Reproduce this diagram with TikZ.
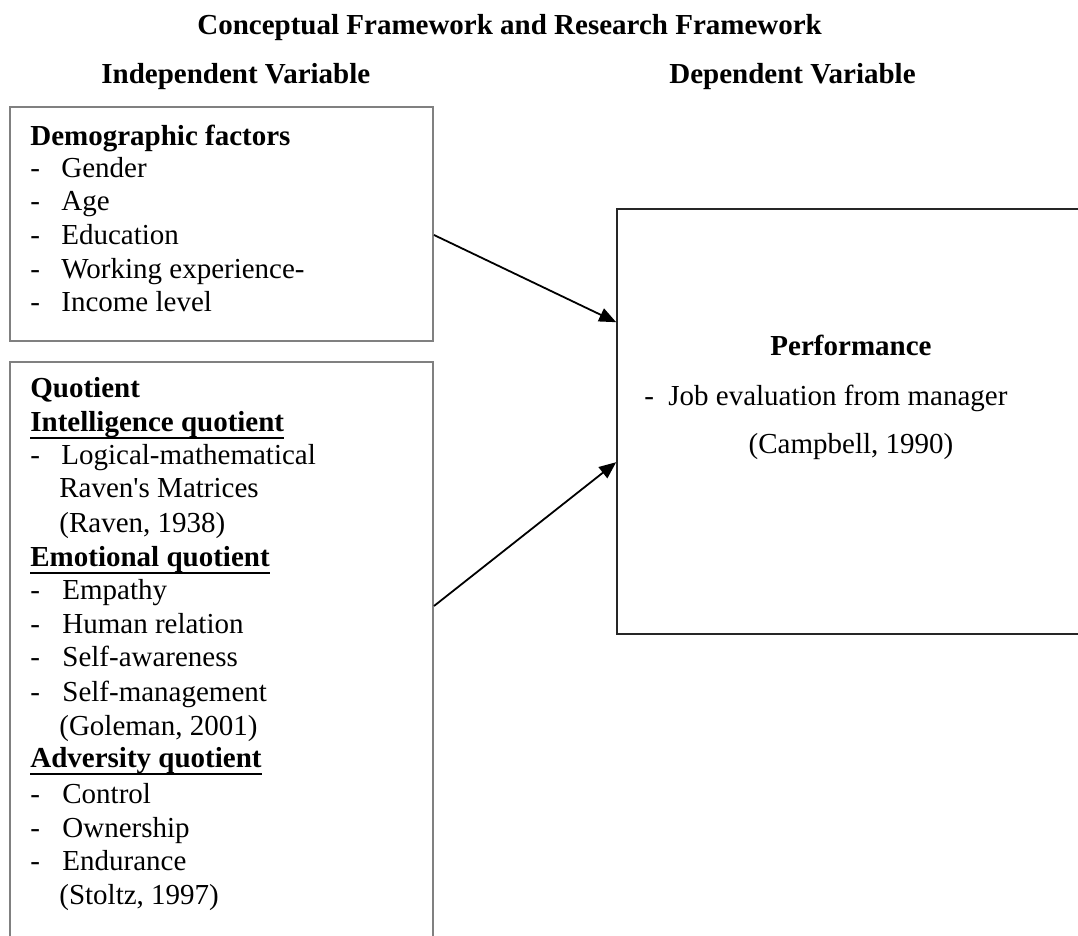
\documentclass[tikz,border=0pt]{standalone}
\usepackage{fontspec}
\setmainfont{Liberation Serif}[Ligatures=TeXOff]
\usetikzlibrary{arrows.meta,calc,fit}
\newcommand\fs{\fontsize{14.5}{17}\selectfont}
\newcommand\myul[1]{\setbox0\hbox{#1}\rlap{\rule[-3.4pt]{\wd0}{1.1pt}}\box0}
\begin{document}
\begin{tikzpicture}[x=0.5pt,y=-0.5pt,
  tx/.style={anchor=base west,inner sep=0pt,font=\fs},
  hd/.style={anchor=base west,inner sep=0pt,font=\fs\bfseries},
  ctr/.style={anchor=base,inner sep=0pt,font=\fs},
  boxL/.style={draw=black!50,line width=1pt,inner sep=0pt},
  boxR/.style={draw=black!85,line width=0.8pt,inner sep=0pt},
  arr/.style={line width=0.9pt,-{Triangle[length=8.5pt,width=7pt]}}]
\useasboundingbox (0,0) rectangle (1078,936);
\clip (0,0) rectangle (1078,936);
\fill[white] (0,0) rectangle (1078,936);

% box frames
\coordinate (dnw) at (10,107);  \coordinate (dse) at (433,341);
\coordinate (qnw) at (10,362);  \coordinate (qse) at (433,1000);
\coordinate (pnw) at (617,209); \coordinate (pse) at (1160,634);
\node[boxL,fit=(dnw)(dse)] (demo) {};
\node[boxL,fit=(qnw)(qse)] (quot) {};
\node[boxR,fit=(pnw)(pse)] (perf) {};

% headings
\node[hd] (title) at (197,35) {Conceptual Framework and Research Framework};
\node[hd] (indep) at (101,84) {Independent Variable};
\node[hd] (dep) at (669,84) {Dependent Variable};

% demographic box
\node[hd] (dh) at (30,146) {Demographic factors};
\node[tx] (d1m) at (30,178) {-}; \node[tx] (d1) at (61,178) {Gender};
\node[tx] (d2m) at (30,211) {-}; \node[tx] (d2) at (61,211) {Age};
\node[tx] (d3m) at (30,245) {-}; \node[tx] (d3) at (61,245) {Education};
\node[tx] (d4m) at (30,279) {-}; \node[tx] (d4) at (61,279) {Working experience-};
\node[tx] (d5m) at (30,312) {-}; \node[tx] (d5) at (61,312) {Income level};

% quotient box
\node[hd] (qh) at (30,398) {Quotient};
\node[hd] (iq) at (30,432) {\myul{Intelligence quotient}};
\node[tx] (iq1m) at (30,465) {-}; \node[tx] (iq1) at (61,465) {Logical-mathematical};
\node[tx] (iq2) at (59,498) {Raven's Matrices};
\node[tx] (iq3) at (59,533) {(Raven, 1938)};
\node[hd] (eq) at (30,567) {\myul{Emotional quotient}};
\node[tx] (eq1m) at (30,600) {-}; \node[tx] (eq1) at (62,600) {Empathy};
\node[tx] (eq2m) at (30,633) {-}; \node[tx] (eq2) at (62,633) {Human relation};
\node[tx] (eq3m) at (30,667) {-}; \node[tx] (eq3) at (62,667) {Self-awareness};
\node[tx] (eq4m) at (30,701) {-}; \node[tx] (eq4) at (62,701) {Self-management};
\node[tx] (eq5) at (59,735) {(Goleman, 2001)};
\node[hd] (aq) at (30,768) {\myul{Adversity quotient}};
\node[tx] (aq1m) at (30,803) {-}; \node[tx] (aq1) at (62,803) {Control};
\node[tx] (aq2m) at (30,837) {-}; \node[tx] (aq2) at (62,837) {Ownership};
\node[tx] (aq3m) at (30,870) {-}; \node[tx] (aq3) at (62,870) {Endurance};
\node[tx] (aq4) at (59,904) {(Stoltz, 1997)};

% performance box
\node[ctr,font=\fs\bfseries] (ph) at (851,356) {Performance};
\node[tx] (p1m) at (644,406) {-}; \node[tx] (p1) at (668,406) {Job evaluation from manager};
\node[ctr] (p2) at (851,454) {(Campbell, 1990)};

% connectors
\draw[arr] ($(demo.north east)+(0,129)$) -- ($(perf.north west)+(0,114)$);
\draw[arr] ($(quot.north east)+(0,245)$) -- ($(perf.north west)+(0,254)$);
\end{tikzpicture}
\end{document}
